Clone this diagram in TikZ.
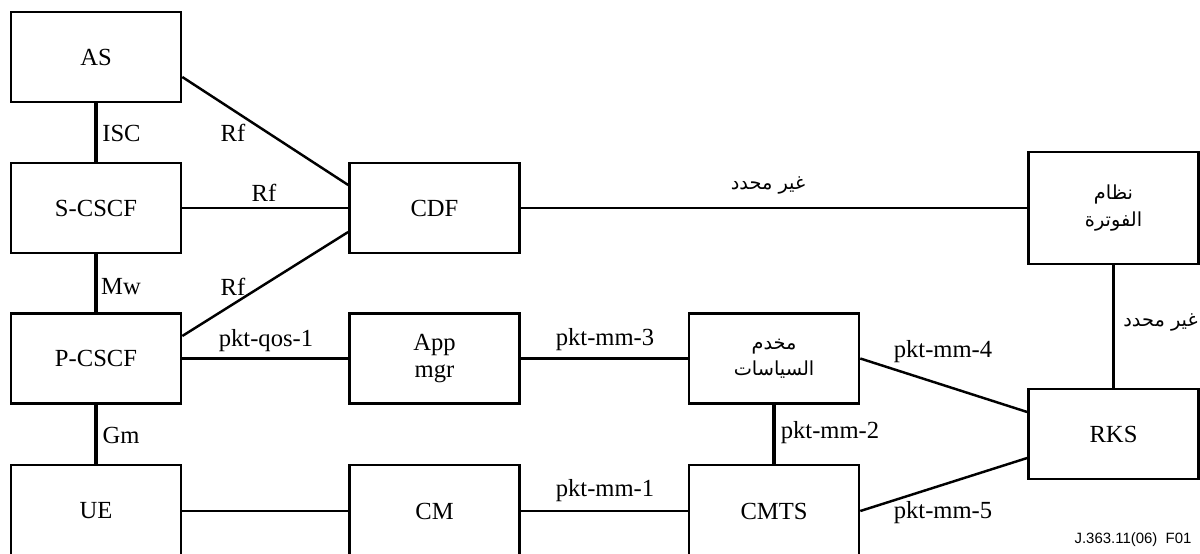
\documentclass[tikz,border=0pt]{standalone}
\usepackage{fontspec}
\setmainfont{Liberation Serif}
\newfontfamily\arabicfont[Script=Arabic]{DejaVu Sans}
\newfontfamily\figfont{Liberation Sans}
\TeXXeTstate=1

\begin{document}
\begin{tikzpicture}[x=0.02cm,y=-0.02cm,
  box/.style={draw,line width=1.5pt,minimum width=3.4cm,minimum height=1.8cm,
    align=center,font=\fontsize{14}{15}\selectfont},
  lowbox/.style={box,minimum height=1.84cm},
  arbox/.style={box,font=\arabicfont\fontsize{11}{15}\selectfont},
  link/.style={line width=1.4pt},
  vlink/.style={line width=1.8pt},
  lbl/.style={font=\fontsize{14}{15}\selectfont,inner sep=0pt},
  arlbl/.style={font=\arabicfont\fontsize{11}{13}\selectfont,inner sep=0pt}]
\useasboundingbox (0,0) rectangle (1200,554);
\clip (0,0) rectangle (1200,554);

% left column
\node[box] (as) at (96,57) {AS};
\node[box] (scscf) at (96,208) {S-CSCF};
\node[box] (pcscf) at (96,358.5) {P-CSCF};
\node[lowbox] (ue) at (96,511) {UE};

% middle columns
\node[box] (cdf) at (434.5,208) {CDF};
\node[box] (appmgr) at (434.5,358.5) {App\\mgr};
\node[lowbox] (cm) at (434.5,511) {CM};
\node[arbox] (policy) at (774,358.5) {\beginR مخدم\endR\\\beginR السياسات\endR};
\node[lowbox] (cmts) at (774,511) {CMTS};

% right column
\node[arbox,minimum height=2.24cm] (billing) at (1113.5,208) {\beginR نظام\endR\\\beginR الفوترة\endR};
\node[box] (rks) at (1113.5,434) {RKS};

% vertical links
\draw[vlink] (as) -- (scscf);
\draw[vlink] (scscf) -- (pcscf);
\draw[vlink] (pcscf) -- (ue);
\draw[vlink] (policy) -- (cmts);
\draw[vlink] (billing) -- (rks);

% other links
\draw[link] ([yshift=-0.4cm]as.east) -- ([yshift=0.46cm]cdf.west);
\draw[link] (scscf) -- (cdf);
\draw[link] ([yshift=0.45cm]pcscf.east) -- ([yshift=-0.48cm]cdf.west);
\draw[link] (pcscf) -- (appmgr);
\draw[link] (ue.east) -- (cm.west);
\draw[link] (appmgr) -- (policy);
\draw[link] (cm.east) -- (cmts.west);
\draw[link] (cdf) -- (billing);
\draw[link] (policy.east) -- ([yshift=0.44cm]rks.west);
\draw[link] (cmts.east) -- ([yshift=-0.48cm]rks.west);

% labels
\node[lbl] (isc) at (121.5,133) {ISC};
\node[lbl] (rfas) at (233,133) {Rf};
\node[lbl] (rfs) at (264,193) {Rf};
\node[lbl] (mw) at (121,287) {Mw};
\node[lbl] (rfp) at (233,287) {Rf};
\node[lbl] (qos1) at (266,341) {pkt-qos-1};
\node[lbl] (gm) at (121,435) {Gm};
\node[lbl] (mm3) at (605,340) {pkt-mm-3};
\node[lbl] (mm1) at (605,491) {pkt-mm-1};
\node[lbl] (mm2) at (830,433) {pkt-mm-2};
\node[lbl] (mm4) at (943,352) {pkt-mm-4};
\node[lbl] (mm5) at (943,513) {pkt-mm-5};
\node[arlbl] (undefa) at (768,185) {\beginR غير محدد\endR};
\node[arlbl,anchor=east] (undefb) at (1198,322) {\beginR غير محدد\endR};
\node[font=\figfont\fontsize{8.5}{10}\selectfont,inner sep=0pt] (figid) at (1133,540) {J.363.11(06)\ \ F01};
\end{tikzpicture}
\end{document}
